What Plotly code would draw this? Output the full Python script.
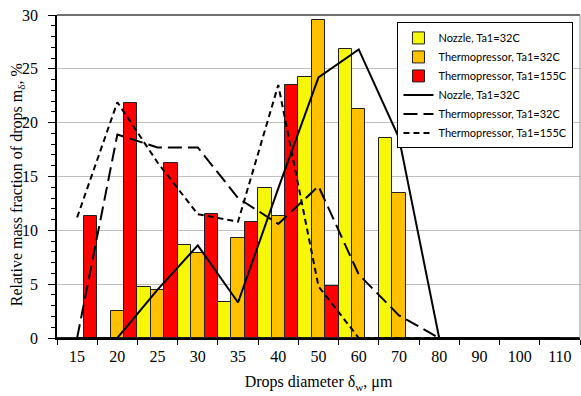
import plotly.graph_objects as go

categories = ["15", "20", "25", "30", "35", "40", "50", "60", "70", "80", "90", "100", "110"]

# bar series
nozzle_32_bar = [0, 0, 4.7, 8.6, 3.3, 13.9, 24.2, 26.8, 18.6, 0, 0, 0, 0]
thermo_32_bar = [0, 2.5, 4.5, 7.9, 9.3, 11.3, 29.5, 21.3, 13.5, 0, 0, 0, 0]
thermo_155_bar = [11.3, 21.8, 16.3, 11.5, 10.8, 23.5, 4.8, 0, 0, 0, 0, 0, 0]

# line series
nozzle_32_line = [0, 0, 4.5, 8.6, 3.3, 13.9, 24.2, 26.8, 18.6, 0, 0, 0, 0]
thermo_32_line = [0, 18.9, 17.7, 17.7, 13.0, 10.6, 14.1, 5.9, 2.1, 0, 0, 0, 0]
thermo_155_line = [11.2, 21.9, 16.3, 11.5, 10.8, 23.5, 4.8, 0, 0, 0, 0, 0, 0]

legend_names = [
    "Nozzle, Ta1=32C",
    "Thermopressor, Ta1=32C",
    "Thermopressor, Ta1=155C",
]

bar_colors = ["#F7F70A", "#FFC000", "#FF0000"]

x_title = "Drops diameter δ<sub>w</sub>, μm"
y_title = "Relative mass fraction of drops m<sub>δ</sub>, %"

fig = go.Figure()
for vals, name, col in zip([nozzle_32_bar, thermo_32_bar, thermo_155_bar], legend_names, bar_colors):
    fig.add_trace(go.Bar(
        x=categories, y=vals, name=name,
        marker=dict(color=col, line=dict(color="#202020", width=1)),
    ))

dashes = ["solid", "14px,6px", "6px,4px"]
for vals, name, d in zip([nozzle_32_line, thermo_32_line, thermo_155_line], legend_names, dashes):
    fig.add_trace(go.Scatter(
        x=categories, y=vals, name=name, mode="lines",
        line=dict(color="black", width=2, dash=d),
    ))

serif = "Liberation Serif, Times New Roman, serif"

fig.update_layout(
    width=581, height=396,
    margin=dict(l=57, r=1, t=15, b=58, autoexpand=False),
    paper_bgcolor="white", plot_bgcolor="white",
    barmode="group", bargap=0, bargroupgap=0,
    font=dict(family=serif, size=16, color="black"),
    showlegend=True,
    legend=dict(
        x=0.651, y=0.977, xanchor="left", yanchor="top",
        bordercolor="black", borderwidth=1, bgcolor="white",
        font=dict(family="Lato, Open Sans, sans-serif", size=11, color="black"),
        tracegroupgap=0, itemwidth=30,
    ),
    xaxis=dict(
        type="category", range=[-0.5, 12.5], automargin=False,
        showline=True, linecolor="black", linewidth=1.5,
        ticks="outside", ticklen=5, tickcolor="black", tickson="boundaries",
        ticklabelstandoff=3,
        showgrid=False, tickfont=dict(family=serif, size=16),
        title=dict(text=x_title, font=dict(family=serif, size=16), standoff=12),
    ),
    yaxis=dict(
        range=[0, 30], dtick=5, tick0=0, automargin=False,
        showline=True, linecolor="black", linewidth=1.5,
        ticks="outside", ticklen=7, tickcolor="black",
        ticklabelstandoff=7,
        minor=dict(dtick=1, ticks="outside", ticklen=4, tickcolor="black", showgrid=False),
        showgrid=True, gridcolor="#BFBFBF", gridwidth=1,
        zeroline=False,
        tickfont=dict(family=serif, size=16),
    ),
    annotations=[
        dict(text=y_title, textangle=-90, xref="paper", yref="paper",
             x=-40 / 523.5, y=0.473, xanchor="center", yanchor="middle",
             showarrow=False, font=dict(family=serif, size=16, color="black")),
    ],
    shapes=[
        dict(type="line", xref="paper", yref="paper", x0=0, x1=1, y0=1, y1=1,
             line=dict(color="#404040", width=1.5)),
        dict(type="line", xref="paper", yref="paper", x0=1, x1=1, y0=0, y1=1,
             line=dict(color="#909090", width=1)),
    ],
)

fig.write_html(
    "out.html",
    config={"displayModeBar": False},
    post_script="document.body.style.margin='0';document.body.style.overflow='hidden';",
)
